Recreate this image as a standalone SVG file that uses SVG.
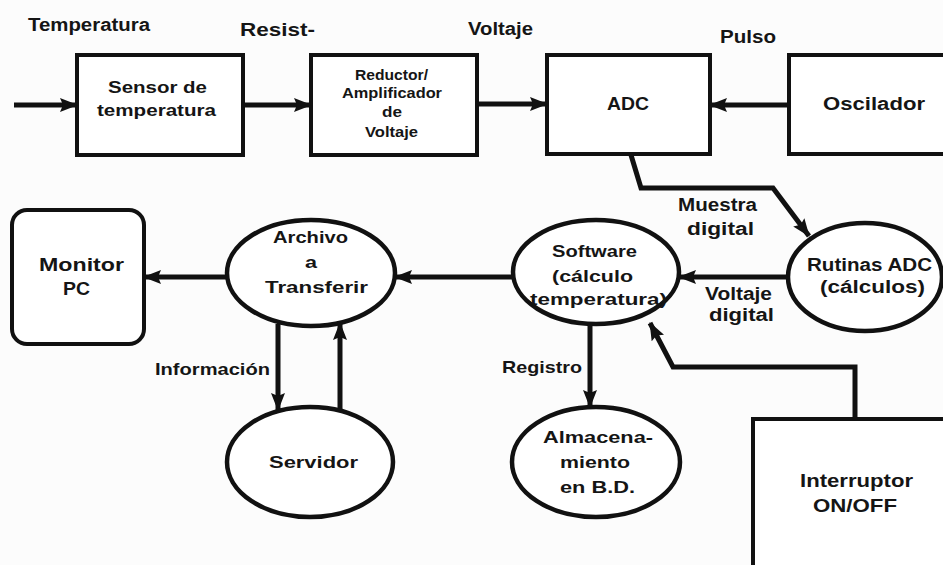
<svg xmlns="http://www.w3.org/2000/svg" width="943" height="565" viewBox="0 0 943 565">
  <defs>
    <style>
      .box { fill: #ffffff; stroke: #111; stroke-width: 4; }
      .oval { fill: #ffffff; stroke: #111; stroke-width: 4.5; }
      .wire { fill: none; stroke: #111; stroke-width: 5; stroke-linejoin: miter; }
      text { font-family: "Liberation Sans", Arial, sans-serif; font-weight: bold; fill: #151515; text-anchor: middle; font-size: 17px; }
      .lg { font-size: 18px; }
      .sm { font-size: 15px; }
    </style>
    <marker id="arrow" viewBox="0 0 18 14" refX="17" refY="7" markerWidth="18" markerHeight="14" markerUnits="userSpaceOnUse" orient="auto">
      <path d="M0,0 L18,7 L0,14 L3,7 Z" fill="#111"/>
    </marker>
  </defs>

  <rect width="943" height="565" fill="#fcfcfc"/>

  <!-- Signal labels along the top chain -->
  <g id="signal-labels">
    <text class="lg" x="89" y="31" textLength="122" lengthAdjust="spacingAndGlyphs">Temperatura</text>
    <text class="lg" x="277.5" y="36" textLength="75" lengthAdjust="spacingAndGlyphs">Resist-</text>
    <text class="lg" x="500.5" y="35" textLength="65" lengthAdjust="spacingAndGlyphs">Voltaje</text>
    <text class="lg" x="748" y="43" textLength="56" lengthAdjust="spacingAndGlyphs">Pulso</text>
  </g>

  <!-- Nodes -->
  <g id="sensor">
    <rect class="box" x="77" y="55" width="166" height="100"/>
    <text x="157.5" y="93" textLength="99" lengthAdjust="spacingAndGlyphs">Sensor de</text>
    <text x="156.5" y="116" textLength="119" lengthAdjust="spacingAndGlyphs">temperatura</text>
  </g>

  <g id="reductor">
    <rect class="box" x="311" y="55" width="166" height="100"/>
    <text class="sm" x="391.5" y="80" textLength="73" lengthAdjust="spacingAndGlyphs">Reductor/</text>
    <text class="sm" x="392" y="98" textLength="100" lengthAdjust="spacingAndGlyphs">Amplificador</text>
    <text class="sm" x="392" y="117" textLength="20" lengthAdjust="spacingAndGlyphs">de</text>
    <text class="sm" x="391.5" y="137" textLength="53" lengthAdjust="spacingAndGlyphs">Voltaje</text>
  </g>

  <g id="adc">
    <rect class="box" x="547" y="55" width="163" height="99"/>
    <text class="lg" x="628" y="110" textLength="42" lengthAdjust="spacingAndGlyphs">ADC</text>
  </g>

  <g id="oscilador">
    <rect class="box" x="789" y="55" width="170" height="99"/>
    <text class="lg" x="874" y="110" textLength="102" lengthAdjust="spacingAndGlyphs">Oscilador</text>
  </g>

  <g id="monitor">
    <rect class="box" x="12" y="210" width="132" height="134" rx="15" ry="15"/>
    <text class="lg" x="81.5" y="271" textLength="85" lengthAdjust="spacingAndGlyphs">Monitor</text>
    <text class="lg" x="76.5" y="295" textLength="27" lengthAdjust="spacingAndGlyphs">PC</text>
  </g>

  <g id="archivo">
    <ellipse class="oval" cx="311" cy="273" rx="84" ry="53"/>
    <text x="310.5" y="243" textLength="75" lengthAdjust="spacingAndGlyphs">Archivo</text>
    <text x="311" y="268" textLength="12" lengthAdjust="spacingAndGlyphs">a</text>
    <text x="316.5" y="293" textLength="103" lengthAdjust="spacingAndGlyphs">Transferir</text>
  </g>

  <g id="software">
    <ellipse class="oval" cx="596" cy="272" rx="83" ry="52"/>
    <text x="594.5" y="257" textLength="85" lengthAdjust="spacingAndGlyphs">Software</text>
    <text x="592.5" y="282" textLength="81" lengthAdjust="spacingAndGlyphs">(cálculo</text>
    <text x="598.5" y="305" textLength="137" lengthAdjust="spacingAndGlyphs">temperatura)</text>
  </g>

  <g id="rutinas">
    <ellipse class="oval" cx="865" cy="277" rx="77" ry="54"/>
    <text class="lg" x="869.5" y="271" textLength="125" lengthAdjust="spacingAndGlyphs">Rutinas ADC</text>
    <text class="lg" x="872.5" y="293" textLength="105" lengthAdjust="spacingAndGlyphs">(cálculos)</text>
  </g>

  <g id="servidor">
    <ellipse class="oval" cx="310" cy="462" rx="83" ry="55"/>
    <text x="313.5" y="468" textLength="89" lengthAdjust="spacingAndGlyphs">Servidor</text>
  </g>

  <g id="almacenamiento">
    <ellipse class="oval" cx="596" cy="462" rx="84" ry="55"/>
    <text x="598" y="443" textLength="110" lengthAdjust="spacingAndGlyphs">Almacena-</text>
    <text x="595" y="468" textLength="70" lengthAdjust="spacingAndGlyphs">miento</text>
    <text x="597.5" y="493" textLength="75" lengthAdjust="spacingAndGlyphs">en B.D.</text>
  </g>

  <g id="interruptor">
    <rect class="box" x="753" y="419" width="210" height="160"/>
    <text class="lg" x="856.5" y="487" textLength="113" lengthAdjust="spacingAndGlyphs">Interruptor</text>
    <text class="lg" x="855" y="512" textLength="84" lengthAdjust="spacingAndGlyphs">ON/OFF</text>
  </g>

  <!-- Connectors -->
  <g id="connectors">
    <line class="wire" x1="14" y1="105" x2="77" y2="105" marker-end="url(#arrow)"/>
    <line class="wire" x1="243" y1="105" x2="311" y2="105" marker-end="url(#arrow)"/>
    <line class="wire" x1="477" y1="104" x2="547" y2="104" marker-end="url(#arrow)"/>
    <line class="wire" x1="789" y1="105" x2="710" y2="105" marker-end="url(#arrow)"/>
    <polyline class="wire" points="631,155 641,188 773,188 809,236" marker-end="url(#arrow)"/>
    <line class="wire" x1="788" y1="277" x2="679" y2="277" marker-end="url(#arrow)"/>
    <line class="wire" x1="513" y1="277" x2="395" y2="277" marker-end="url(#arrow)"/>
    <line class="wire" x1="227" y1="277" x2="144" y2="277" marker-end="url(#arrow)"/>
    <line class="wire" x1="278" y1="324" x2="278" y2="410" marker-end="url(#arrow)"/>
    <line class="wire" x1="340" y1="410" x2="340" y2="323" marker-end="url(#arrow)"/>
    <line class="wire" x1="590" y1="324" x2="590" y2="407" marker-end="url(#arrow)"/>
    <polyline class="wire" points="855,419 855,367 673,367 650,323" marker-end="url(#arrow)"/>
  </g>

  <!-- Connector labels -->
  <g id="connector-labels">
    <text class="lg" x="717.5" y="211" textLength="79" lengthAdjust="spacingAndGlyphs">Muestra</text>
    <text class="lg" x="720.5" y="235" textLength="67" lengthAdjust="spacingAndGlyphs">digital</text>
    <text class="lg" x="738.5" y="300" textLength="67" lengthAdjust="spacingAndGlyphs">Voltaje</text>
    <text class="lg" x="741.5" y="321" textLength="65" lengthAdjust="spacingAndGlyphs">digital</text>
    <text x="212.5" y="375" textLength="115" lengthAdjust="spacingAndGlyphs">Información</text>
    <text x="542" y="373" textLength="80" lengthAdjust="spacingAndGlyphs">Registro</text>
  </g>
</svg>
